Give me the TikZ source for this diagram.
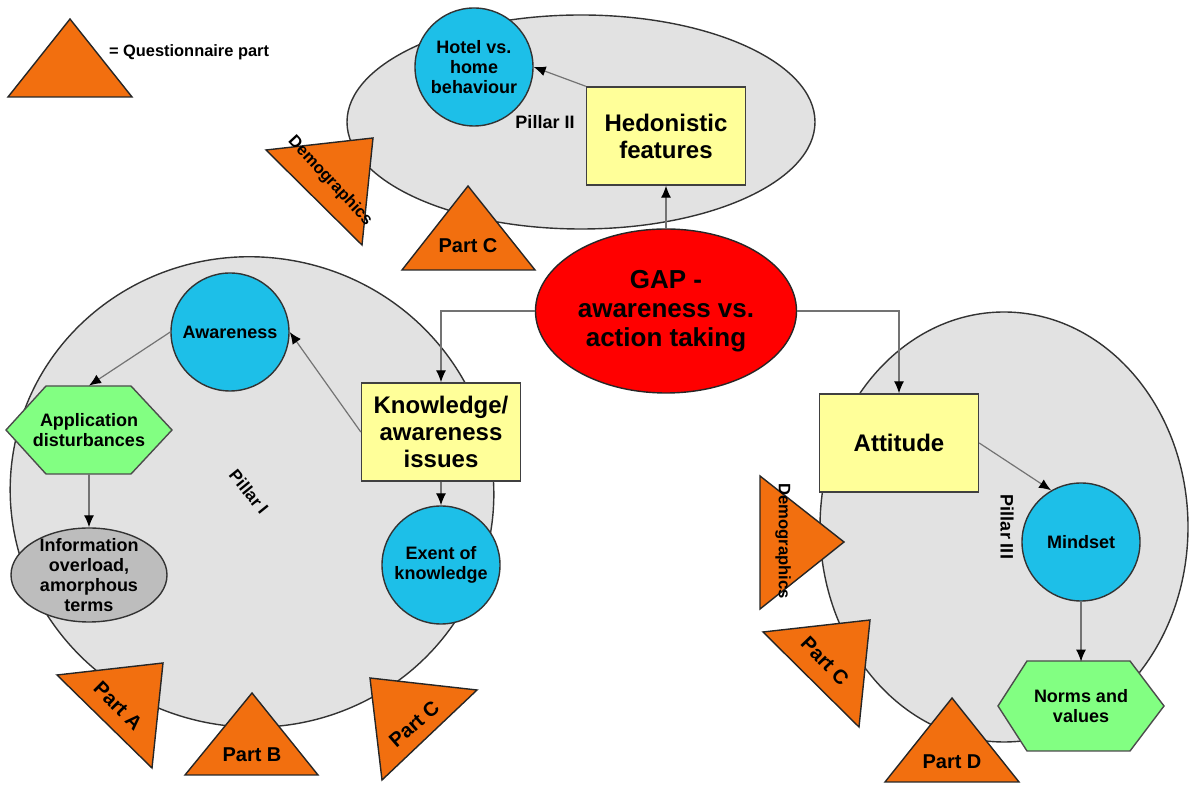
\documentclass[tikz,border=0pt]{standalone}
\usepackage{fontspec}
\setmainfont{Liberation Sans}
\usetikzlibrary{shapes.geometric, arrows.meta}

\definecolor{pillargray}{HTML}{E2E2E2}
\definecolor{gapred}{HTML}{FF0000}
\definecolor{themeyellow}{HTML}{FFFF99}
\definecolor{facetblue}{HTML}{1DBFE8}
\definecolor{hexgreen}{HTML}{82FF82}
\definecolor{overgray}{HTML}{BDBDBD}
\definecolor{qorange}{HTML}{F26F0F}

\begin{document}
\begin{tikzpicture}[x=0.5pt, y=-0.5pt,
    >={Latex[length=6pt, width=5pt, color=black]},
    font=\bfseries\fontsize{9}{10}\selectfont,
    pillar/.style={draw=black!80, fill=pillargray, line width=0.7pt},
    hub/.style={ellipse, draw=black!85, fill=gapred, line width=0.7pt, minimum width=130.5pt, minimum height=82pt, inner sep=0pt, align=center, font=\bfseries\fontsize{13}{14.5}\selectfont},
    theme/.style={rectangle, draw=black!75, fill=themeyellow, line width=0.7pt, minimum width=79.5pt, minimum height=49pt, align=center, font=\bfseries\fontsize{12}{13.5}\selectfont},
    facet/.style={circle, draw=black!80, fill=facetblue, line width=0.7pt, minimum size=59pt, inner sep=0pt, align=center},
    hexline/.style={draw=black!70, fill=hexgreen, line width=0.7pt},
    hexa/.style={rectangle, minimum width=83pt, minimum height=44pt, inner sep=0pt, align=center},
    overload/.style={ellipse, draw=black!80, fill=overgray, line width=0.7pt, minimum width=78pt, minimum height=47pt, inner sep=0pt},
    qpart/.style={draw=black!85, fill=qorange, line width=0.7pt},
    qtext/.style={font=\bfseries\fontsize{10}{11}\selectfont},
    demotext/.style={font=\bfseries\fontsize{8.3}{10}\selectfont},
    conn/.style={->, draw=black!55, line width=0.6pt}]
    \useasboundingbox (0,0) rectangle (1189,795);

    % Pillars
    \draw[pillar] (581,122) ellipse [x radius=234, y radius=107];
    \draw[pillar, rotate around={-10:(252,492)}] (252,492) ellipse [x radius=242, y radius=235];
    \draw[pillar] (1004,527) ellipse [x radius=184, y radius=215];
    \node (p2) at (545,122) {Pillar II};
    \node[rotate=-51, font=\bfseries\fontsize{8.5}{10}\selectfont] (p1) at (249,492) {Pillar I};
    \node[rotate=-90] (p3) at (1007,527) {Pillar III};

    % Questionnaire parts
    \filldraw[qpart] (8,97) -- (132,97) -- (70,19) -- cycle;
    \node[anchor=west, font=\bfseries\fontsize{8.2}{10}\selectfont] (legend) at (102,52) {= Questionnaire part};
    \filldraw[qpart] (266,150) -- (373,138) -- (362,245) -- cycle;
    \node[demotext, rotate=-47] (demo2) at (330,181) {Demographics};
    \filldraw[qpart] (402,270) -- (535,270) -- (468,186) -- cycle;
    \node[qtext] (partC2) at (468,246) {Part C};
    \filldraw[qpart] (57,675) -- (163,663) -- (152,768) -- cycle;
    \node[qtext, rotate=-45] (partA) at (118,706) {Part A};
    \filldraw[qpart] (185,775) -- (318,775) -- (252,693) -- cycle;
    \node[qtext] (partB) at (252,755) {Part B};
    \filldraw[qpart] (370,678) -- (477,690) -- (382,780) -- cycle;
    \node[qtext, rotate=41] (partC1) at (414,724) {Part C};
    \filldraw[qpart] (760,476) -- (844,542) -- (760,609) -- cycle;
    \node[demotext, rotate=-90] (demo3) at (783,541) {Demographics};
    \filldraw[qpart] (763,632) -- (870,620) -- (859,727) -- cycle;
    \node[qtext, rotate=-46] (partC3) at (825,661) {Part C};
    \filldraw[qpart] (885,782) -- (1019,782) -- (952,698) -- cycle;
    \node[qtext] (partD) at (952,762) {Part D};

    % Hexagon outlines
    \filldraw[hexline] (6,430) -- (46,386) -- (131,386) -- (172,430) -- (131,474) -- (46,474) -- cycle;
    \filldraw[hexline] (998,706) -- (1027,661) -- (1130,661) -- (1164,706) -- (1130,751) -- (1027,751) -- cycle;

    % Concepts
    \node[hub] (gap) at (666,311) {GAP -\\awareness vs.\\action taking};
    \node[theme] (hed) at (666,136) {Hedonistic\\features};
    \node[theme] (know) at (441,432) {Knowledge/\\awareness\\issues};
    \node[theme] (att) at (899,443) {Attitude};
    \node[facet] (hotel) at (474,67) {Hotel vs.\\home\\behaviour};
    \node[facet] (aware) at (230,332) {Awareness};
    \node[facet] (exent) at (441,565) {Exent of\\knowledge};
    \node[facet] (mind) at (1081,542) {Mindset};
    \node[hexa] (app) at (89,430) {Application\\disturbances};
    \node[hexa] (norms) at (1081,706) {Norms and\\values};
    \node[overload, label={[align=center]center:{Information\\overload,\\amorphous\\terms}}] (info) at (89,575) {};

    % Links
    \path
        (gap.north) edge[conn] (hed.south)
        (hed.north west) edge[conn] (hotel.east)
        (know.west) edge[conn] (aware.east)
        (aware.west) edge[conn] (app.north)
        (app.south) edge[conn] (info.north)
        (know.south) edge[conn] (exent.north)
        (att.east) edge[conn] (mind.120)
        (mind.south) edge[conn] (norms.north);
    \draw[conn] (gap.west) -| (know.north);
    \draw[conn] (gap.east) -| (att.north);
\end{tikzpicture}
\end{document}
